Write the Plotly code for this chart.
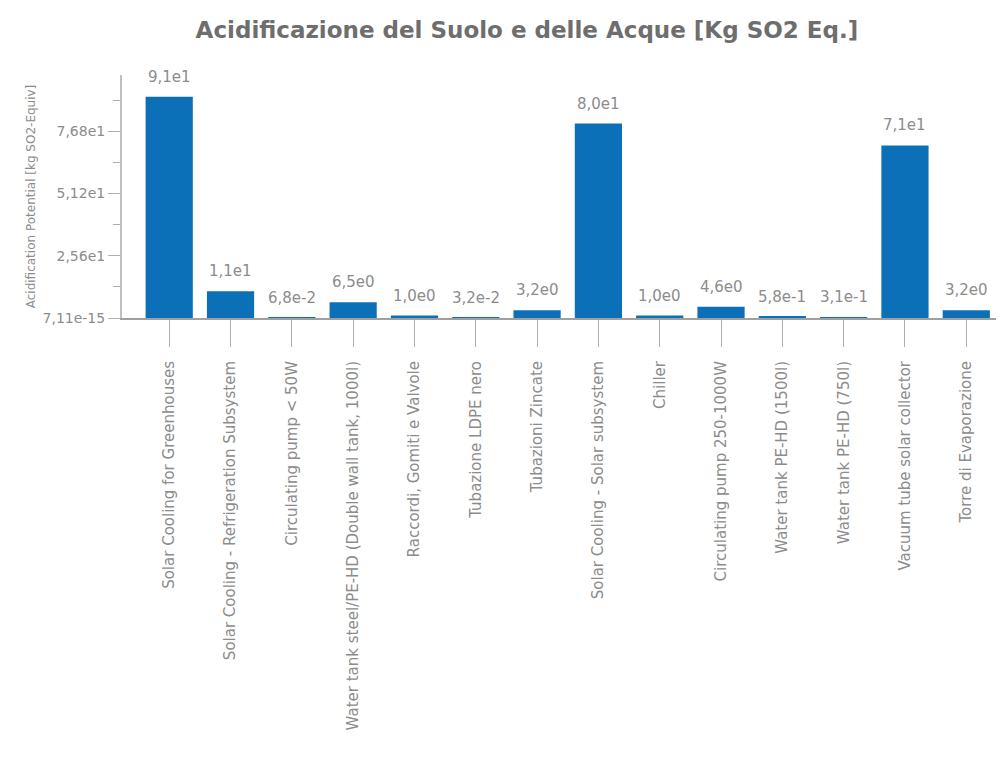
import plotly.graph_objects as go

# dati
categorie = [
    "Solar Cooling for Greenhouses",
    "Solar Cooling - Refrigeration Subsystem",
    "Circulating pump < 50W",
    "Water tank steel/PE-HD (Double wall tank, 1000l)",
    "Raccordi, Gomiti e Valvole",
    "Tubazione LDPE nero",
    "Tubazioni Zincate",
    "Solar Cooling - Solar subsystem",
    "Chiller",
    "Circulating pump 250-1000W",
    "Water tank PE-HD (1500l)",
    "Water tank PE-HD (750l)",
    "Vacuum tube solar collector",
    "Torre di Evaporazione",
]
valori = [91, 11, 0.068, 6.5, 1.0, 0.032, 3.2, 80, 1.0, 4.6, 0.58, 0.31, 71, 3.2]

tick_y = [0, 25.6, 51.2, 76.8]
tick_y_testo = ["7,11e-15", "2,56e1", "5,12e1", "7,68e1"]
minor_y = [12.8, 38.4, 64.0, 89.6]


def formato(v):
    # 9.1e+01 -> 9,1e1
    mant, esp = f"{v:.1e}".split("e")
    return mant.replace(".", ",") + "e" + str(int(esp))


grigio = "#8c8c8c"
font_base = "DejaVu Sans, Verdana, sans-serif"

fig = go.Figure()
fig.add_trace(
    go.Bar(
        x=categorie,
        y=valori,
        marker=dict(color="#0b70b8", line=dict(width=0)),
        width=0.77,
    )
)

# etichette sopra le barre, un po' staccate
for cat, v in zip(categorie, valori):
    fig.add_annotation(
        x=cat,
        y=v,
        text=formato(v),
        showarrow=False,
        yanchor="bottom",
        yshift=9,
        font=dict(size=15, color=grigio),
    )

# la pagina html ha 8px di margine sul body
fig.update_layout(
    width=996,
    height=755,
    margin=dict(l=114, r=4, t=67, b=445),
    paper_bgcolor="white",
    plot_bgcolor="white",
    font=dict(family=font_base, color=grigio, size=14),
    title=dict(
        text="<b>Acidificazione del Suolo e delle Acque [Kg SO2 Eq.]</b>",
        x=0.521,
        xanchor="center",
        y=0.971,
        yanchor="middle",
        font=dict(size=23, color="#6e6e6e", family=font_base),
    ),
    showlegend=False,
)

fig.update_xaxes(
    range=[-0.77, 13.55],
    tickangle=-90,
    ticks="outside",
    ticklen=27,
    ticklabelstandoff=8,
    tickcolor="#b0b0b0",
    tickwidth=1,
    showline=True,
    linecolor="#a0a0a0",
    linewidth=2,
    showgrid=False,
    tickfont=dict(size=15, color=grigio),
    automargin=False,
)

fig.update_yaxes(
    range=[0, 100],
    tickmode="array",
    tickvals=tick_y,
    ticktext=tick_y_testo,
    ticks="outside",
    ticklen=12,
    tickcolor="#b0b0b0",
    minor=dict(tickvals=minor_y, ticks="outside", ticklen=7, tickcolor="#b0b0b0", showgrid=False),
    showline=True,
    linecolor="#c0c0c0",
    linewidth=2,
    showgrid=False,
    zeroline=False,
    tickfont=dict(size=14, color=grigio),
    title=dict(
        text="Acidification Potential [kg SO2-Equiv]",
        font=dict(size=12, color=grigio),
        standoff=4,
    ),
    automargin=False,
)

fig.write_html("out.html")
